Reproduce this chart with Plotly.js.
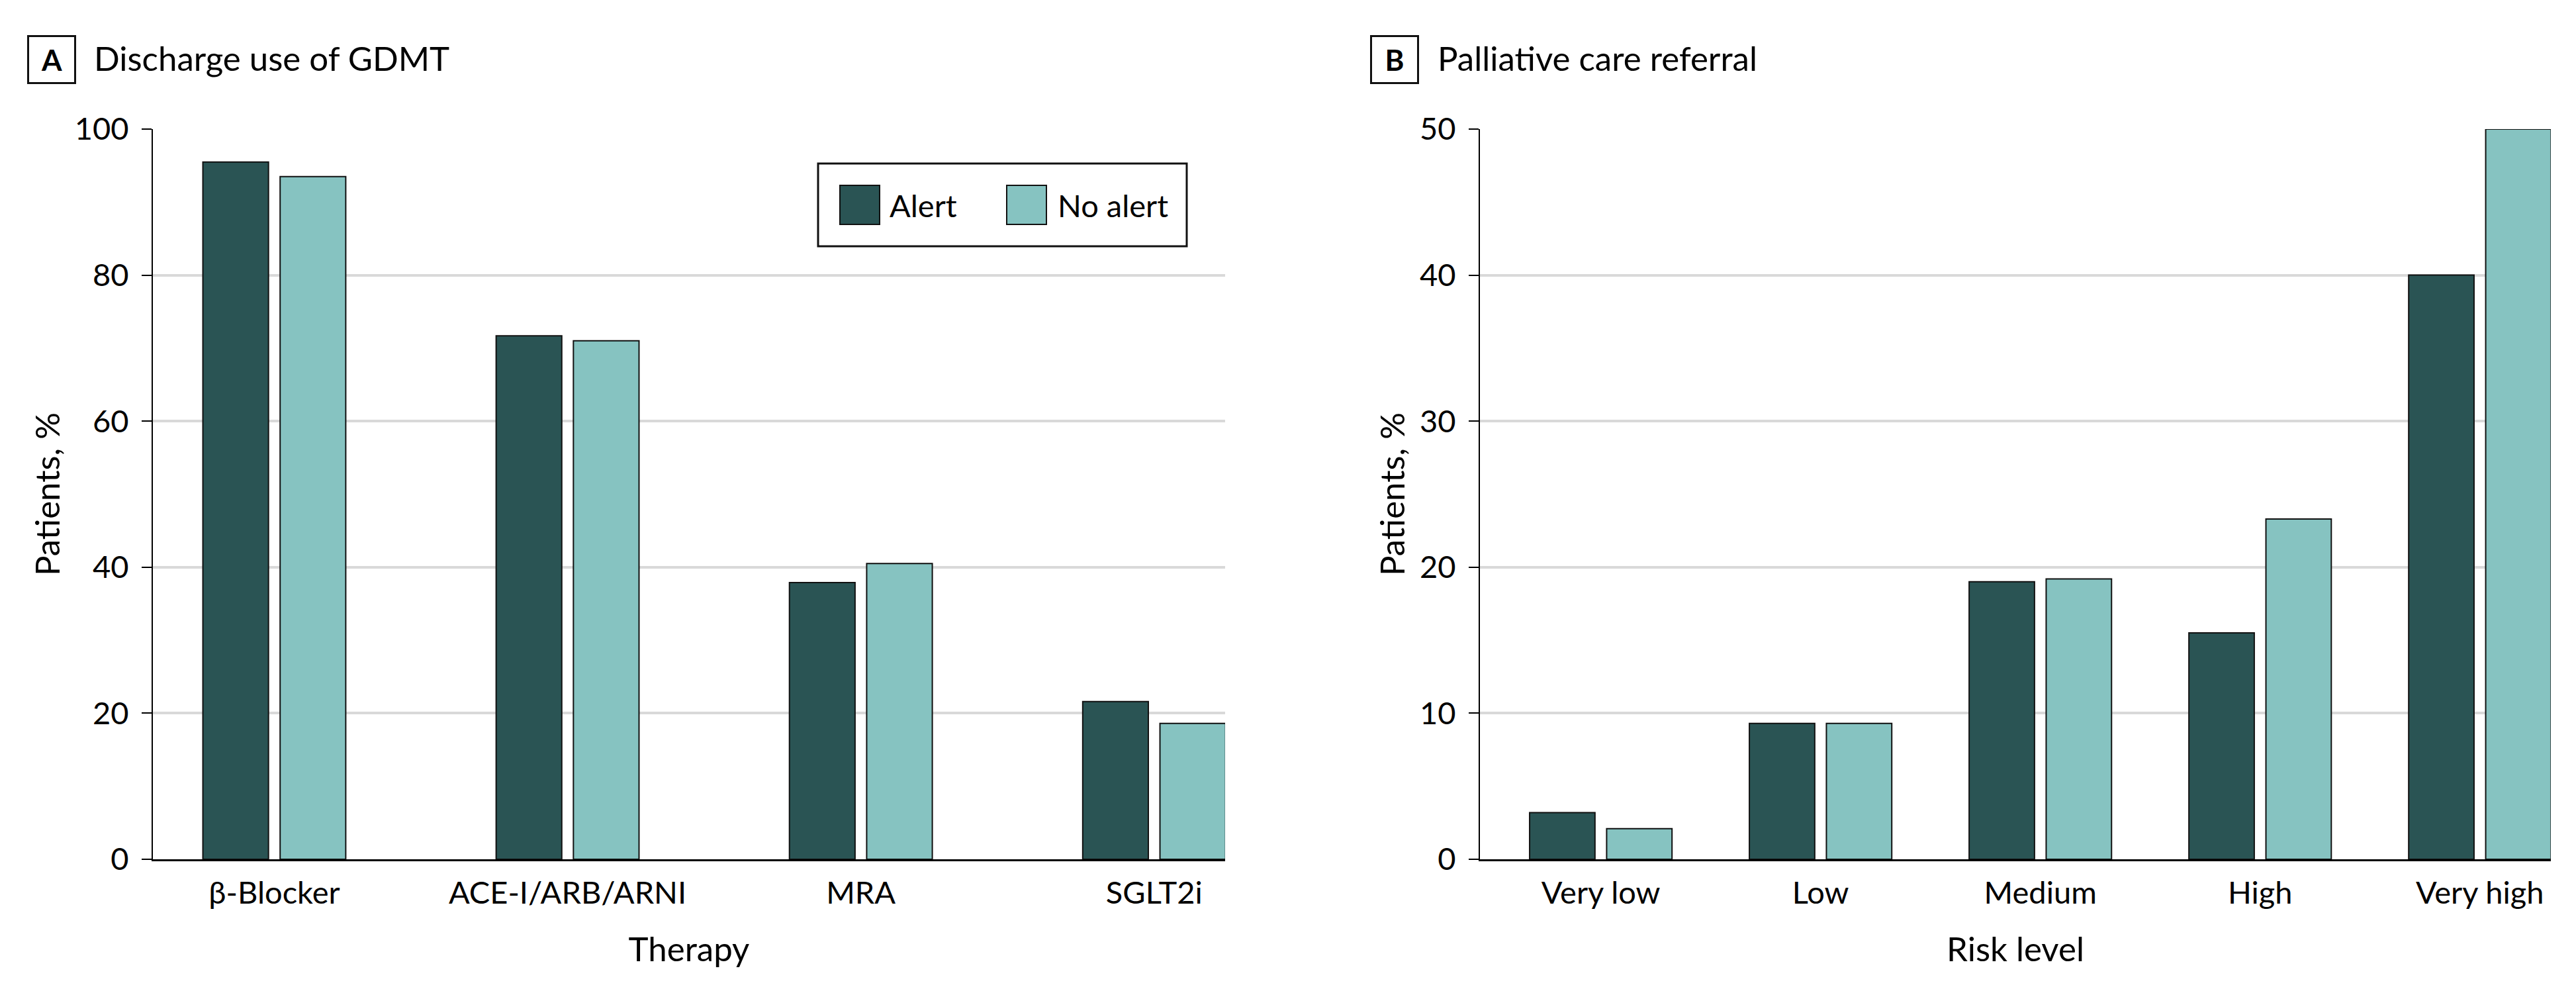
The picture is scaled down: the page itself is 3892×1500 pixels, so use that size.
<!DOCTYPE html>
<html>
<head>
<meta charset="utf-8">
<script src="https://cdn.plot.ly/plotly-3.0.1.min.js"></script>
<style>
  html, body { margin: 0; padding: 0; background: #fff; }
  #chart { width: 3892px; height: 1500px; }
</style>
</head>
<body>
<div id="chart"></div>
<script>
// panel A data
const therapies = ['β-Blocker', 'ACE-I/ARB/ARNI', 'MRA', 'SGLT2i'];
const gdmtAlert = [95.5, 71.7, 37.9, 21.6];
const gdmtNoAlert = [93.5, 71.0, 40.5, 18.6];

// panel B data
const riskLevels = ['Very low', 'Low', 'Medium', 'High', 'Very high'];
const palliativeAlert = [3.2, 9.3, 19.0, 15.5, 40.0];
const palliativeNoAlert = [2.1, 9.3, 19.2, 23.3, 50.0];

const seriesNames = ['Alert', 'No alert'];
const yTicksA = [0, 20, 40, 60, 80, 100];
const yTicksB = [0, 10, 20, 30, 40, 50];

const W = 3892, H = 1500;
const darkColor = '#2a5454';
const lightColor = '#86c3c1';
const fontFamily = 'Lato, "Open Sans", sans-serif';

// pixel helpers for layout pieces (paper coords)
const px = v => v / W;
const py = v => 1 - v / H;

function barTrace(xs, ys, name, color, xaxis, yaxis, width, offset) {
    return {
        type: 'bar',
        x: xs,
        y: ys,
        name: name,
        xaxis: xaxis,
        yaxis: yaxis,
        width: width,
        offset: offset,
        marker: { color: color, line: { color: '#111', width: 2 } },
        showlegend: false,
        hoverinfo: 'x+y'
    };
}

let data = [
    barTrace(therapies, gdmtAlert, seriesNames[0], darkColor, 'x', 'y', 0.2238, -0.2436),
    barTrace(therapies, gdmtNoAlert, seriesNames[1], lightColor, 'x', 'y', 0.2238, 0.0198),
    barTrace(riskLevels, palliativeAlert, seriesNames[0], darkColor, 'x2', 'y2', 0.2975, -0.324),
    barTrace(riskLevels, palliativeNoAlert, seriesNames[1], lightColor, 'x2', 'y2', 0.2975, 0.0265)
];

const tickFont = { family: fontFamily, size: 47, color: '#000' };
const titleFont = { family: fontFamily, size: 51, color: '#000' };

function xAxis(domain, range, title, anchor) {
    return {
        domain: domain,
        anchor: anchor,
        type: 'category',
        range: range,
        showline: true,
        linecolor: '#000',
        linewidth: 3,
        showgrid: false,
        zeroline: false,
        ticks: '',
        tickfont: tickFont,
        ticklabelstandoff: 8,
        title: { text: title, font: titleFont, standoff: 42 },
        fixedrange: true
    };
}

function yAxis(tickvals, range, anchor) {
    return {
        domain: [1 - 1298 / H, 1 - 195 / H],
        anchor: anchor,
        range: range,
        tickvals: tickvals,
        showline: true,
        linecolor: '#000',
        linewidth: 2,
        ticks: 'outside',
        ticklen: 15,
        tickwidth: 2,
        tickcolor: '#000',
        ticklabelstandoff: 10,
        showgrid: true,
        gridcolor: '#d9d9d9',
        gridwidth: 4,
        zeroline: false,
        tickfont: tickFont,
        title: { text: 'Patients, %', font: titleFont, standoff: 6 },
        fixedrange: true
    };
}

// custom legend box (panel A)
const legendShapes = [
    { type: 'rect', xref: 'paper', yref: 'paper', x0: px(1236), x1: px(1793), y0: py(247), y1: py(372),
      line: { color: '#111', width: 3 }, fillcolor: '#fff', layer: 'above' },
    { type: 'rect', xref: 'paper', yref: 'paper', x0: px(1269), x1: px(1329), y0: py(280), y1: py(339),
      line: { color: '#111', width: 2 }, fillcolor: darkColor, layer: 'above' },
    { type: 'rect', xref: 'paper', yref: 'paper', x0: px(1521), x1: px(1581), y0: py(280), y1: py(339),
      line: { color: '#111', width: 2 }, fillcolor: lightColor, layer: 'above' }
];

function label(text, x, y, size, extra) {
    return Object.assign({
        text: text, xref: 'paper', yref: 'paper', x: px(x), y: py(y),
        xanchor: 'left', yanchor: 'middle', showarrow: false,
        font: { family: fontFamily, size: size, color: '#000' }
    }, extra || {});
}

const annotations = [
    label(seriesNames[0], 1342, 310, 47),
    label(seriesNames[1], 1596, 310, 47),
    // panel headers
    label('<b>A</b>', 78, 90, 44, { xanchor: 'center', width: 68, height: 68, bordercolor: '#111', borderwidth: 3, borderpad: 0 }),
    label('Discharge use of GDMT', 140, 88, 51),
    label('<b>B</b>', 2107, 90, 44, { xanchor: 'center', width: 68, height: 68, bordercolor: '#111', borderwidth: 3, borderpad: 0 }),
    label('Palliative care referral', 2170, 88, 51)
];

let layout = {
    width: W,
    height: H,
    margin: { l: 0, r: 0, t: 0, b: 0 },
    paper_bgcolor: '#fff',
    plot_bgcolor: '#fff',
    barmode: 'overlay',
    font: { family: fontFamily, color: '#000' },
    xaxis: xAxis([231 / W, 1851 / W], [-0.414, 3.242], 'Therapy', 'y'),
    yaxis: yAxis(yTicksA, [0, 100], 'x'),
    xaxis2: xAxis([2236 / W, 3854 / W], [-0.55, 4.323], 'Risk level', 'y2'),
    yaxis2: yAxis(yTicksB, [0, 50], 'x2'),
    shapes: legendShapes,
    annotations: annotations,
    showlegend: false
};

Plotly.newPlot('chart', data, layout, { staticPlot: true, displayModeBar: false });
</script>
</body>
</html>
